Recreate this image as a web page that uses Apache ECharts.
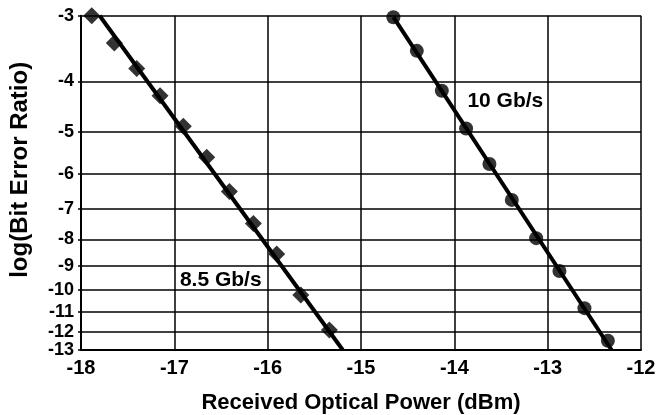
<!DOCTYPE html>
<html>
<head>
<meta charset="utf-8">
<script src="https://cdn.jsdelivr.net/npm/echarts@6/dist/echarts.min.js"></script>
<style>html,body{margin:0;padding:0;background:#fff;}#c{width:660px;height:415px;}</style>
</head>
<body>
<div id="c"></div>
<script>
// Data (x: received optical power in dBm, y: log10(BER))
const xTicks = [-18, -17, -16, -15, -14, -13, -12];
const yTicks = [-3, -4, -5, -6, -7, -8, -9, -10, -11, -12, -13];
const x85 = [-17.885, -17.643, -17.403, -17.153, -16.904, -16.653, -16.41, -16.153, -15.903, -15.645, -15.339];
const y85 = [-3.0, -3.38, -3.78, -4.26, -4.87, -5.58, -6.49, -7.46, -8.53, -10.21, -11.91];
const x10 = [-14.653, -14.402, -14.134, -13.874, -13.624, -13.384, -13.123, -12.874, -12.606, -12.355];
const y10 = [-3.02, -3.50, -4.17, -4.92, -5.75, -6.73, -7.96, -9.19, -10.82, -12.48];
const fit85x = [-17.80, -15.195];
const fit85y = [-3.0, -13.0];
const fit10x = [-14.653, -12.315];
const fit10y = [-3.02, -13.0];

const T = v => -Math.log10(-v);        // BER-scale transform
const inv = t => -Math.pow(10, -t);
const pts = (xs, ys) => xs.map((x, i) => [x, T(ys[i])]);

const FONT = 'Liberation Sans, Arial, sans-serif';
const chart = echarts.init(document.getElementById('c'), null, {renderer: 'canvas'});
chart.setOption({
  animation: false,
  backgroundColor: '#fff',
  grid: {left: 81, right: 19, top: 15.7, bottom: 65, containLabel: false, outerBoundsMode: 'none'},
  xAxis: {
    type: 'value', min: -18, max: -12, interval: 1,
    name: 'Received Optical Power (dBm)', nameLocation: 'middle', nameGap: 42,
    nameTextStyle: {fontFamily: FONT, fontSize: 22, fontWeight: 'bold', color: '#000'},
    axisLine: {onZero: false, lineStyle: {color: '#000', width: 2}},
    axisTick: {show: false},
    axisLabel: {fontFamily: FONT, fontSize: 20, fontWeight: 'bold', color: '#000', margin: 8,
      customValues: xTicks, formatter: v => String(v)},
    splitLine: {show: true, lineStyle: {color: '#000', width: 1.5}}
  },
  yAxis: {
    type: 'value', min: T(-13), max: T(-3),
    name: 'log(Bit Error Ratio)', nameLocation: 'middle', nameGap: 49, nameRotate: 90,
    nameTextStyle: {fontFamily: FONT, fontSize: 24, fontWeight: 'bold', color: '#000', padding: [0, 0, 0, 26]},
    axisLine: {onZero: false, lineStyle: {color: '#000', width: 2}},
    axisTick: {show: true, length: 3, lineStyle: {color: '#000', width: 1.5}, customValues: yTicks.map(T)},
    axisLabel: {fontFamily: FONT, fontSize: 18, fontWeight: 'bold', color: '#000', margin: 7, hideOverlap: false,
      customValues: yTicks.map(T), formatter: v => String(Math.round(inv(v)))},
    splitLine: {show: true, lineStyle: {color: '#000', width: 1.5}}
  },
  series: [
    {type: 'line', data: pts(fit85x, fit85y), symbol: 'none', lineStyle: {color: '#000', width: 4}, z: 3,
      markPoint: {symbol: 'circle', symbolSize: 0, data: [{coord: [-16.94, T(-9.59)], value: '8.5 Gb/s'}],
        label: {show: true, position: 'right', distance: 0, formatter: '8.5 Gb/s', fontFamily: FONT, fontSize: 21, fontWeight: 'bold', color: '#000'}}},
    {type: 'line', data: pts(fit10x, fit10y), symbol: 'none', lineStyle: {color: '#000', width: 4}, z: 3,
      markPoint: {symbol: 'circle', symbolSize: 0, data: [{coord: [-13.86, T(-4.36)], value: '10 Gb/s'}],
        label: {show: true, position: 'right', distance: 0, formatter: '10 Gb/s', fontFamily: FONT, fontSize: 21, fontWeight: 'bold', color: '#000'}}},
    {type: 'scatter', data: pts(x85, y85), symbol: 'diamond', symbolSize: 17, itemStyle: {color: '#000'}, z: 4},
    {type: 'scatter', data: pts(x10, y10), symbol: 'circle', symbolSize: 14, itemStyle: {color: '#000'}, z: 4}
  ]
});
</script>
</body>
</html>
